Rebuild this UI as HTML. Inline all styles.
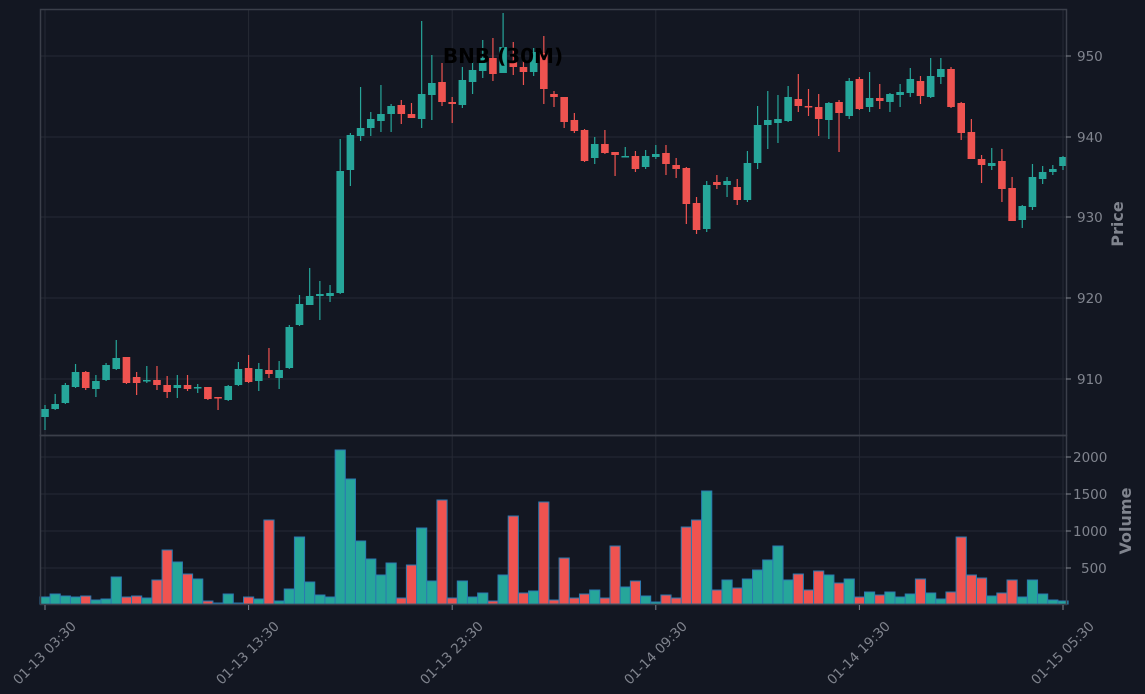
<!DOCTYPE html>
<html><head><meta charset="utf-8"><style>
html,body{margin:0;padding:0;background:#131722;}
svg{display:block;font-family:"DejaVu Sans","Liberation Sans",sans-serif;}
</style></head><body>
<svg id="c" width="1145" height="694" xmlns="http://www.w3.org/2000/svg">
<rect width="1145" height="694" fill="#131722"/>
<g id="grid" stroke="#262a35" stroke-width="1"></g>
<g id="vol"></g>
<g id="cand"></g>
<rect x="40.5" y="9.5" width="1026" height="426" fill="none" stroke="#3b3f4a" stroke-width="1.5"/>
<rect x="40.5" y="435.5" width="1026" height="169" fill="none" stroke="#3b3f4a" stroke-width="1.5"/>
<g fill="#80848e" font-size="13.5">
<text x="1077" y="61">950</text><text x="1077" y="142">940</text><text x="1077" y="222">930</text><text x="1077" y="303">920</text><text x="1077" y="384">910</text>
<text x="1073" y="462">2000</text><text x="1073" y="499">1500</text><text x="1073" y="536">1000</text><text x="1081" y="573">500</text>
</g>
<text transform="translate(1123,224) rotate(-90)" text-anchor="middle" fill="#80848e" font-size="16" font-weight="bold">Price</text>
<text transform="translate(1131,521) rotate(-90)" text-anchor="middle" fill="#80848e" font-size="16" font-weight="bold">Volume</text>
<text x="503" y="63" text-anchor="middle" fill="#000" font-size="20" font-weight="bold">BNB (30M)</text>
<g fill="#80848e" font-size="13.5" text-anchor="end">
<text transform="translate(77,627) rotate(-45)">01-13 03:30</text>
<text transform="translate(280,627) rotate(-45)">01-13 13:30</text>
<text transform="translate(484,627) rotate(-45)">01-13 23:30</text>
<text transform="translate(688,627) rotate(-45)">01-14 09:30</text>
<text transform="translate(891,627) rotate(-45)">01-14 19:30</text>
<text transform="translate(1095,627) rotate(-45)">01-15 05:30</text>
</g>
<g id="ticks" stroke="#80848e"></g>
</svg>
<script>
var NS="http://www.w3.org/2000/svg";
function el(p,t,a){var e=document.createElementNS(NS,t);for(var k in a)e.setAttribute(k,a[k]);document.getElementById(p).appendChild(e);return e;}
var G="#26a69a",R="#ef5350";
var d=[
[409,417,405,430,1,597],[404,409,394,410,1,594],[385,403,383,404,1,596],[372,387,364,388,1,597],[372,388,371,390,0,596],
[381,389,375,397,1,600],[365,380,363,381,1,599],[358,369,340,370,1,577],[357,383,357,384,0,597],[377,383,372,395,0,596],
[380,381,366,383,1,598],[380,385,366,390,0,580],[385,392,376,398,0,550],[385,388,375,398,1,562],[385,389,375,391,0,574],
[387,388,384,393,1,579],[387,399,387,400,0,601],[397,398,397,410,0,603],[386,400,385,401,1,594],[369,385,362,386,1,603],
[368,382,355,383,0,597],[369,381,363,391,1,599],[370,374,348,378,0,520],[370,378,361,389,1,601],[327,368,325,369,1,589],
[304,325,295,326,1,537],[296,305,268,305,1,582],[294,296,281,320,1,595],[293,296,285,302,1,597],[171,293,139,294,1,450],
[135,170,133,186,1,479],[128,136,87,141,1,541],[119,128,112,136,1,559],[114,121,85,132,1,575],[106,114,104,132,1,563],
[105,114,100,124,0,598],[114,118,103,118,0,565],[94,119,21,128,1,528],[83,95,55,120,1,581],[82,102,63,106,0,500],
[102,104,97,123,0,598],[80,105,67,108,1,581],[70,82,62,94,1,597],[58,71,40,78,1,593],[58,74,38,81,0,601],
[47,73,13,73,1,575],[62,67,42,75,0,516],[67,72,52,85,0,593],[52,72,48,76,1,591],[53,89,36,104,0,502],
[94,97,91,107,0,600],[97,122,97,128,0,558],[120,131,113,133,0,598],[130,161,129,162,0,594],[144,158,137,164,1,590],
[144,153,130,154,0,598],[152,155,152,176,0,546],[156,157,147,157,1,587],[156,169,151,172,0,581],[156,167,150,169,1,596],
[154,157,145,159,1,602],[153,164,145,175,0,595],[165,169,158,178,0,598],[168,204,167,224,0,527],[203,230,197,234,0,520],
[185,229,181,232,1,491],[182,185,175,189,0,590],[181,185,177,197,1,580],[187,200,179,205,0,588],[163,200,151,202,1,579],
[125,163,106,169,1,570],[120,125,91,149,1,560],[119,123,95,143,1,546],[97,121,86,122,1,580],[99,106,74,112,0,574],
[106,107,89,116,0,590],[107,119,94,136,0,571],[103,120,102,139,1,575],[102,113,100,152,0,583],[81,116,78,119,1,579],
[79,109,77,110,0,597],[98,107,72,112,1,592],[98,101,84,109,0,595],[94,102,93,112,1,592],[92,95,84,107,1,597],
[79,93,68,97,1,594],[81,96,76,104,0,579],[76,97,58,98,1,593],[69,77,58,84,1,599],[69,107,67,108,0,592],
[103,133,102,140,0,537],[132,159,119,159,0,575],[159,165,155,183,0,578],[163,166,148,170,1,596],[161,189,149,202,0,593],
[188,221,177,221,0,580],[206,220,205,228,1,597],[177,207,164,210,1,580],[172,179,166,184,1,594],[169,172,165,175,1,600],
[157,166,156,170,1,601]];
var s=10.18,x0=45;
[56,137,217,298,379].forEach(function(y){el("grid","line",{x1:41,x2:1066,y1:y,y2:y});});
[457,494,531,568].forEach(function(y){el("grid","line",{x1:41,x2:1066,y1:y,y2:y});});
for(var k=0;k<6;k++){var gx=x0+k*20*s;el("grid","line",{x1:gx,x2:gx,y1:10,y2:604});
el("ticks","line",{x1:gx,x2:gx,y1:605,y2:610});}
[56,137,217,298,379,457,494,531,568].forEach(function(y){el("ticks","line",{x1:1066,x2:1071,y1:y,y2:y});});
d.forEach(function(c,i){var x=x0+i*s,col=c[4]?G:R;
el("vol","rect",{x:x-s/2,y:c[5],width:s,height:604-c[5],fill:col,stroke:"#2a7ab0","stroke-width":1});
el("cand","line",{x1:x,x2:x,y1:c[2],y2:c[3],stroke:col,"stroke-width":1.2});
el("cand","rect",{x:x-3.8,y:c[0],width:7.6,height:Math.max(1.5,c[1]-c[0]),fill:col});
});
</script>
</body></html>
